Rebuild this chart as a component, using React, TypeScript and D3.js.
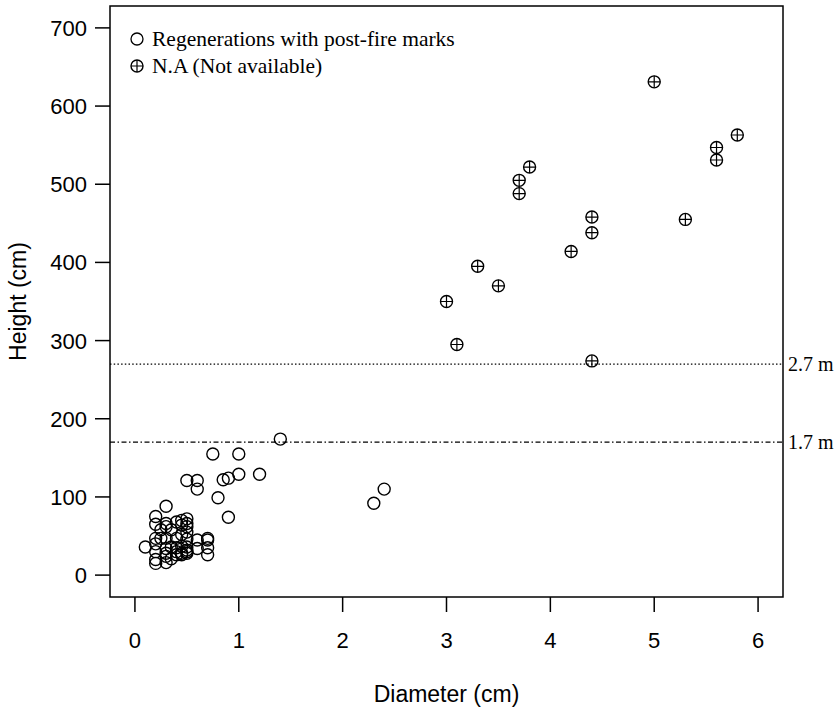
import { useEffect, useRef } from "react";
import * as d3 from "d3";

// Regenerations with post-fire marks (open circles)
const regenDiameter = [
  1.4, 0.75, 1.0, 1.2, 1.0, 0.9, 0.85, 0.5, 0.6, 0.6, 0.8, 2.4, 2.3, 0.3, 0.9, 0.2, 0.5, 0.45,
  0.3, 0.3, 0.2, 0.4, 0.45, 0.5, 0.5, 0.25, 0.35, 0.5, 0.45,
  0.2, 0.25, 0.3, 0.4, 0.6, 0.7, 0.7, 0.5,
  0.1, 0.2, 0.2, 0.3, 0.35, 0.4, 0.45, 0.5, 0.5, 0.6, 0.7, 0.7, 0.5,
  0.2, 0.2, 0.3, 0.3, 0.35, 0.4, 0.45, 0.45, 0.5, 0.4, 0.3,
];
const regenHeight = [
  174, 155, 155, 129, 129, 124, 122, 121, 121, 110, 99, 110, 92, 88, 74, 75, 72, 70,
  66, 62, 65, 68, 64, 62, 66, 58, 58, 55, 52,
  47, 47, 47, 47, 45, 45, 47, 46,
  36, 40, 30, 34, 36, 35, 37, 36, 32, 34, 35, 26, 30,
  20, 15, 24, 16, 21, 26, 26, 28, 28, 30, 28,
];

// N.A (Not available) points (crossed circles)
const naDiameter = [5.0, 5.8, 5.6, 5.6, 3.8, 3.7, 3.7, 4.4, 4.4, 5.3, 4.2, 3.3, 3.5, 3.0, 3.1, 4.4];
const naHeight = [631, 563, 547, 531, 522, 505, 488, 458, 438, 455, 414, 395, 370, 350, 295, 274];

const xTicks = [0, 1, 2, 3, 4, 5, 6];
const yTicks = [0, 100, 200, 300, 400, 500, 600, 700];
const refHeights = [270, 170];
const refLabels = ["2.7 m", "1.7 m"];
const legendLabels = ["Regenerations with post-fire marks", "N.A (Not available)"];

const SANS = "'Liberation Sans', Arial, sans-serif";
const SERIF = "'Liberation Serif', 'Times New Roman', serif";

function ScatterPlot() {
  const svgRef = useRef<SVGSVGElement>(null);

  useEffect(() => {
    if (!svgRef.current) return;
    const svg = d3.select(svgRef.current);
    svg.selectAll("*").remove();

    const box = { left: 110, right: 783, top: 6, bottom: 597 };

    // R-style 4% extension of xlim = c(0,6), ylim = c(0,700)
    const x = d3.scaleLinear().domain([-0.24, 6.24]).range([box.left, box.right]);
    const y = d3.scaleLinear().domain([-28, 728]).range([box.bottom, box.top]);

    const g = svg.append("g");

    // Reference lines
    const dashes = ["1.5,2.2", "5,2.5,1.5,2.5"];
    refHeights.forEach((h, i) => {
      g.append("line")
        .attr("x1", box.left).attr("x2", box.right)
        .attr("y1", y(h)).attr("y2", y(h))
        .attr("stroke", "#000").attr("stroke-width", 1.2)
        .attr("stroke-dasharray", dashes[i]);
      g.append("text")
        .attr("x", box.right + 5).attr("y", y(h) + 7)
        .attr("font-family", SERIF).attr("font-size", 20)
        .text(refLabels[i]);
    });

    // Box
    g.append("rect")
      .attr("x", box.left).attr("y", box.top)
      .attr("width", box.right - box.left).attr("height", box.bottom - box.top)
      .attr("fill", "none").attr("stroke", "#000").attr("stroke-width", 1.5);

    // X axis
    const xAxis = g.append("g");
    xTicks.forEach(t => {
      xAxis.append("line")
        .attr("x1", x(t)).attr("x2", x(t))
        .attr("y1", box.bottom).attr("y2", box.bottom + 15)
        .attr("stroke", "#000").attr("stroke-width", 1.5);
      xAxis.append("text")
        .attr("x", x(t)).attr("y", box.bottom + 51)
        .attr("text-anchor", "middle")
        .attr("font-family", SANS).attr("font-size", 22)
        .text(t);
    });
    xAxis.append("text")
      .attr("x", (box.left + box.right) / 2).attr("y", 702)
      .attr("text-anchor", "middle")
      .attr("font-family", SANS).attr("font-size", 23)
      .text("Diameter (cm)");

    // Y axis
    const yAxis = g.append("g");
    yTicks.forEach(t => {
      yAxis.append("line")
        .attr("x1", box.left - 15).attr("x2", box.left)
        .attr("y1", y(t)).attr("y2", y(t))
        .attr("stroke", "#000").attr("stroke-width", 1.5);
      yAxis.append("text")
        .attr("x", box.left - 23).attr("y", y(t) + 8)
        .attr("text-anchor", "end")
        .attr("font-family", SANS).attr("font-size", 22)
        .text(t);
    });
    yAxis.append("text")
      .attr("transform", `translate(26,${(box.top + box.bottom) / 2}) rotate(-90)`)
      .attr("text-anchor", "middle")
      .attr("font-family", SANS).attr("font-size", 23)
      .text("Height (cm)");

    const r = 6;

    // Open circles
    g.append("g").selectAll("circle")
      .data(regenDiameter.map((d, i) => [d, regenHeight[i]]))
      .enter().append("circle")
      .attr("cx", d => x(d[0])).attr("cy", d => y(d[1]))
      .attr("r", r)
      .attr("fill", "none").attr("stroke", "#000").attr("stroke-width", 1.4);

    // Crossed circles
    const drawCrossed = (sel: d3.Selection<SVGGElement, unknown, null, undefined>, cx: number, cy: number) => {
      sel.append("circle").attr("cx", cx).attr("cy", cy).attr("r", r)
        .attr("fill", "none").attr("stroke", "#000").attr("stroke-width", 1.4);
      sel.append("path")
        .attr("d", `M${cx - r},${cy}H${cx + r}M${cx},${cy - r}V${cy + r}`)
        .attr("stroke", "#000").attr("stroke-width", 1.2);
    };
    const naG = g.append("g");
    naDiameter.forEach((d, i) => drawCrossed(naG, x(d), y(naHeight[i])));

    // Legend
    const leg = g.append("g");
    const legX = 137, legY0 = 39, legStep = 27;
    legendLabels.forEach((label, i) => {
      const cy = legY0 + i * legStep;
      if (i === 0) {
        leg.append("circle").attr("cx", legX).attr("cy", cy).attr("r", r)
          .attr("fill", "none").attr("stroke", "#000").attr("stroke-width", 1.3);
      } else {
        drawCrossed(leg, legX, cy);
      }
      leg.append("text")
        .attr("x", legX + 15).attr("y", cy + 7)
        .attr("font-family", SERIF).attr("font-size", 21.5)
        .text(label);
    });
  }, []);

  return (
    <svg ref={svgRef} width={839} height={713}
      style={{ position: "absolute", left: 0, top: 0, background: "#fff" }} />
  );
}

export default function App() {
  return <ScatterPlot />;
}
